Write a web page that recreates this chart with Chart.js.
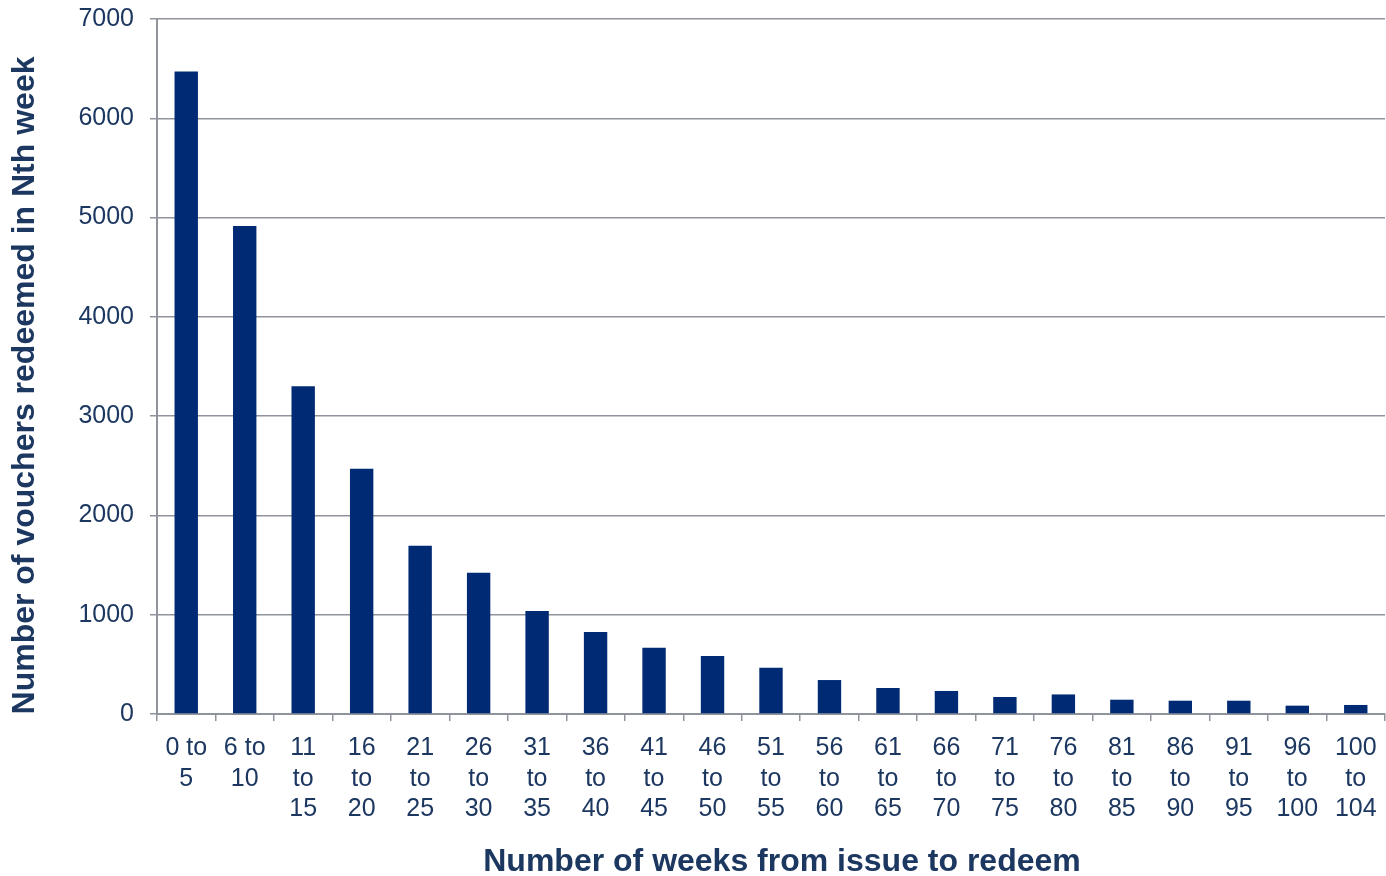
<!DOCTYPE html>
<html lang="en">
<head>
    <meta charset="UTF-8">
    <title>Vouchers redeemed by week</title>
    <script src="https://cdn.jsdelivr.net/npm/chart.js"></script>
    <style>
        html, body { margin: 0; padding: 0; background: #fff; }
        .chart-container { width: 1386px; height: 876px; }
    </style>
</head>
<body>

<div class="chart-container">
    <canvas id="vouchersChart"></canvas>
</div>

<script>
    // Week ranges from issue to redeem
    const categories = [
        '0 to 5', '6 to 10', '11 to 15', '16 to 20', '21 to 25', '26 to 30', '31 to 35',
        '36 to 40', '41 to 45', '46 to 50', '51 to 55', '56 to 60', '61 to 65', '66 to 70',
        '71 to 75', '76 to 80', '81 to 85', '86 to 90', '91 to 95', '96 to 100', '100 to 104'
    ];

    // Vouchers redeemed in each range
    const redeemed = [
        6470, 4916, 3300, 2470, 1695, 1423, 1037,
        826, 668, 584, 466, 342, 262, 232,
        171, 197, 144, 134, 134, 84, 91
    ];

    const yTicks = [0, 1000, 2000, 3000, 4000, 5000, 6000, 7000];

    const xTitle = 'Number of weeks from issue to redeem';
    const yTitle = 'Number of vouchers redeemed in Nth week';

    const textColor = '#1c3760';
    const gridColor = '#8f939c';
    const fontFamily = '"Liberation Sans", Arial, sans-serif';

    // short first numbers fit "0 to" on one line, longer ones stack
    function wrapLabel(label) {
        const parts = label.split(' ');
        return parts[0].length === 1 ? [parts[0] + ' ' + parts[1], parts[2]] : parts;
    }

    // axis titles, placed by hand so they sit a bit right / lower than the plot centre
    const axisTitles = {
        id: 'axisTitles',
        afterDraw(chart) {
            const ctx = chart.ctx;
            const area = chart.chartArea;
            ctx.save();
            ctx.fillStyle = textColor;
            ctx.font = 'bold 32px ' + fontFamily;
            ctx.textAlign = 'center';
            ctx.textBaseline = 'middle';
            ctx.fillText(xTitle, (area.left + area.right) / 2 + 11, 862);
            ctx.translate(25, (area.top + area.bottom) / 2 + 19);
            ctx.rotate(-Math.PI / 2);
            ctx.fillText(yTitle, 0, 0);
            ctx.restore();
        }
    };

    const config = {
        type: 'bar',
        data: {
            labels: categories,
            datasets: [{
                label: 'Vouchers',
                data: redeemed,
                backgroundColor: '#002b74',
                barPercentage: 0.4,
                categoryPercentage: 1.0
            }]
        },
        options: {
            responsive: true,
            maintainAspectRatio: false,
            animation: false,
            layout: {
                padding: 0
            },
            scales: {
                x: {
                    grid: {
                        display: true,
                        drawOnChartArea: false,
                        drawTicks: true,
                        tickLength: 7,
                        color: gridColor,
                        lineWidth: 1.5
                    },
                    border: { color: gridColor, width: 2 },
                    ticks: {
                        color: textColor,
                        font: { family: fontFamily, size: 25, lineHeight: 1.22 },
                        padding: 12,
                        maxRotation: 0,
                        autoSkip: false,
                        callback: function(value, index) {
                            return wrapLabel(categories[index]);
                        }
                    },
                    afterFit: function(scale) {
                        scale.height = 162;
                        scale.paddingLeft = 0;
                        scale.paddingRight = 1;
                    }
                },
                y: {
                    min: 0,
                    max: 7000,
                    afterBuildTicks: function(scale) {
                        scale.ticks = yTicks.map(v => ({ value: v }));
                    },
                    grid: {
                        color: gridColor,
                        lineWidth: 1.5,
                        tickLength: 7
                    },
                    border: { color: gridColor, width: 2 },
                    ticks: {
                        color: textColor,
                        font: { family: fontFamily, size: 25 },
                        padding: 16,
                        callback: function(value) { return String(value); }
                    },
                    afterFit: function(scale) {
                        scale.width = 157;
                        scale.paddingTop = 19;
                        scale.paddingBottom = 0;
                    }
                }
            },
            plugins: {
                legend: { display: false },
                tooltip: { enabled: false }
            }
        },
        plugins: [axisTitles]
    };

    const vouchersChart = new Chart(
        document.getElementById('vouchersChart'),
        config
    );
</script>

</body>
</html>
